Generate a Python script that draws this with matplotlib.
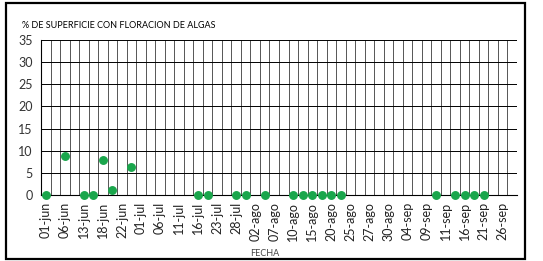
import matplotlib.pyplot as plt
from matplotlib.patches import Rectangle

## Etiquetas del eje (una cada dos categorias)
tick_labels = ['01-jun', '06-jun', '13-jun', '18-jun', '22-jun', '01-jul', '06-jul',
               '11-jul', '16-jul', '23-jul', '28-jul', '02-ago', '07-ago', '10-ago',
               '15-ago', '20-ago', '25-ago', '27-ago', '30-ago', '04-sep', '09-sep',
               '11-sep', '16-sep', '21-sep', '26-sep']
n_cat = 50

## Muestreos: posicion de categoria y % de superficie
cat_idx = [0, 2, 4, 5, 6, 7, 9, 16, 17, 20, 21, 23, 26, 27, 28, 29, 30, 31,
           41, 43, 44, 45, 46]
pct = [0, 8.7, 0, 0, 8.0, 1.2, 6.3, 0, 0, 0, 0, 0, 0, 0, 0, 0, 0, 0,
       0, 0, 0, 0, 0]

plt.rcParams['font.family'] = ['Lato', 'DejaVu Sans']

fig = plt.figure(figsize=(5.43, 2.61), dpi=100)
ax = fig.add_axes([41/543, 1 - 195/261, 476/543, 155/261])

# marco exterior
fig.patches.append(Rectangle((6/543, 2/261), 519/543, 256/261, transform=fig.transFigure,
                             fill=False, edgecolor='black', linewidth=1.6))

# rejilla vertical entre categorias
for k in range(n_cat + 1):
    ax.axvline(k - 0.5, color='#555555', linewidth=0.7, zorder=1)
for yv in range(5, 36, 5):
    ax.axhline(yv, color='black', linewidth=0.7, zorder=1)

ax.plot(cat_idx, pct, 'o', color='#1aa64c', markersize=5.4, clip_on=False, zorder=3)

ax.set_xlim(-0.5, n_cat - 0.5)
ax.set_ylim(0, 35)
ax.set_yticks(range(0, 36, 5))
ax.set_xticks(range(0, n_cat, 2))
ax.set_xticklabels(tick_labels, rotation=90, fontsize=9)
ax.tick_params(axis='y', labelsize=9, length=0, pad=6, labelcolor='#333333')
ax.tick_params(axis='x', length=0, pad=5, labelcolor='#222222')
for s in ['top', 'right']:
    ax.spines[s].set_visible(False)
ax.spines['left'].set_color('black')
ax.spines['bottom'].set_color('black')
ax.spines['left'].set_linewidth(0.8)
ax.spines['bottom'].set_linewidth(0.8)

fig.text(22/543, 1 - 25/261, '% DE SUPERFICIE CON FLORACION DE ALGAS', fontsize=6.5,
         ha='left', va='center')
fig.text(265/543, 1 - 254/261, 'FECHA', fontsize=6.5, ha='center', va='center',
         color='#444444')

fig.savefig('out.png', dpi=100)
